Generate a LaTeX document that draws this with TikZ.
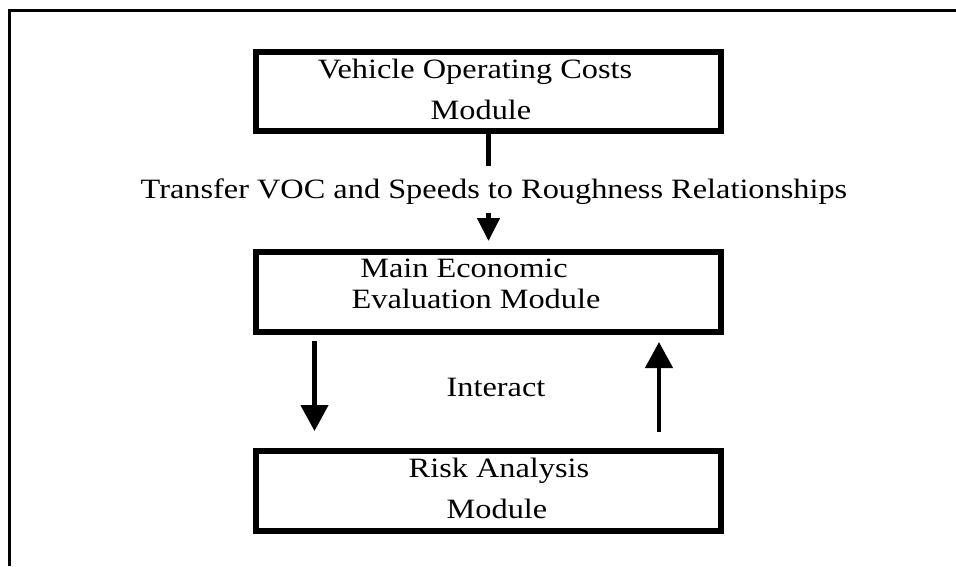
\documentclass[tikz,border=0pt]{standalone}
\usepackage{fontspec}
\setmainfont{Liberation Serif}[FakeStretch=1.155]
\usetikzlibrary{arrows.meta}

\tikzset{
  modbox/.style={draw, line width=6pt, outer sep=0pt, inner sep=0pt,
    minimum width=465pt, minimum height=79pt},
  label/.style={anchor=base, inner sep=0pt, outer sep=0pt,
    font=\fontsize{28pt}{31pt}\selectfont},
  flow/.style={line width=4.5pt},
  bigtip/.style={flow, -{Triangle[width=27pt,length=26pt]}},
  smalltip/.style={flow, -{Triangle[width=22pt,length=23pt]}},
}

\begin{document}
\begin{tikzpicture}[x=1pt, y=-1pt]
  \useasboundingbox (0,0) rectangle (956,566);

  % open outer frame: left side and top only
  \draw[line width=3pt] (9.5,566) -- (9.5,10.5) -- (956,10.5);

  % modules
  \node[modbox] (voc) at (488.5,91.5) {};
  \node[modbox, minimum height=80pt] (meem) at (488.5,292) {};
  \node[modbox, minimum height=80pt] (risk) at (488.5,491) {};

  % module titles
  \node[label] (voc1) at (475,78) {Vehicle Operating Costs};
  \node[label] (voc2) at (481,119) {Module};
  \node[label] (meem1) at (464,277) {Main Economic};
  \node[label] (meem2) at (476,308) {Evaluation Module};
  \node[label] (risk1) at (499,477) {Risk Analysis};
  \node[label] (risk2) at (497,518) {Module};

  % transfer from the VOC module to the main module
  \coordinate (gapTop) at (488.5,166);
  \coordinate (gapBot) at (488.5,213);
  \draw[flow] (voc.south) -- (gapTop);
  \node[label] (transfer) at (494,198)
    {Transfer VOC and Speeds to Roughness Relationships};
  \draw[smalltip, shorten >=11pt] (gapBot) -- (meem.north);

  % interaction between main module and risk module
  \draw[bigtip, shorten <=9pt, shorten >=20pt]
    ([xshift=-174pt]meem.south) -- ([xshift=-174pt]risk.north);
  \draw[bigtip, shorten <=19pt, shorten >=10pt]
    ([xshift=170.5pt]risk.north) -- ([xshift=170.5pt]meem.south);
  \node[label] (interact) at (496,396) {Interact};
\end{tikzpicture}
\end{document}
